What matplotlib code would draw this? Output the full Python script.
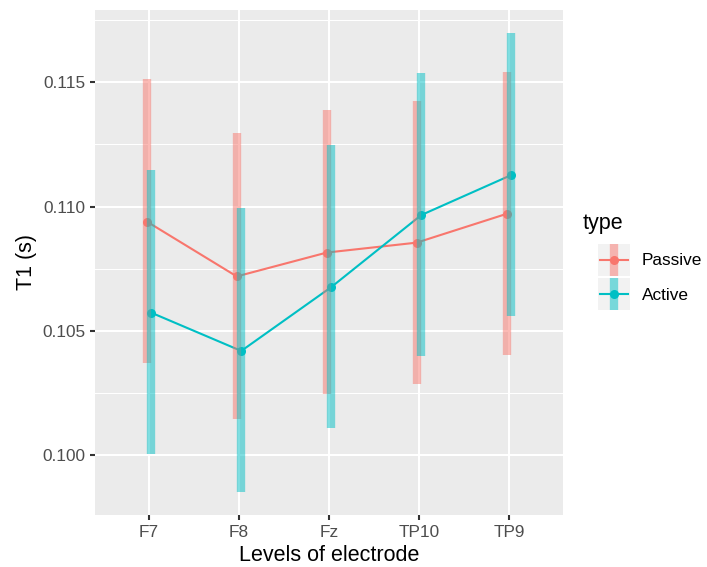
import matplotlib
matplotlib.use("Agg")
import matplotlib.pyplot as plt
import numpy as np

plt.rcParams['font.family'] = ['Liberation Sans', 'DejaVu Sans']

electrodes = ["F7", "F8", "Fz", "TP10", "TP9"]
types = ["Passive", "Active"]
colors = {"Passive": "#F8766D", "Active": "#00BFC4"}

passive_mean = [0.10940, 0.10719, 0.10815, 0.10855, 0.10971]
passive_lower = [0.10370, 0.10147, 0.10247, 0.10287, 0.10403]
passive_upper = [0.11515, 0.11295, 0.11388, 0.11425, 0.11542]

active_mean = [0.10573, 0.10419, 0.10676, 0.10966, 0.11127]
active_lower = [0.10003, 0.09851, 0.10109, 0.10399, 0.10560]
active_upper = [0.11146, 0.10993, 0.11247, 0.11538, 0.11699]

y_ticks = [0.100, 0.105, 0.110, 0.115]
y_tick_labels = ["0.100", "0.105", "0.110", "0.115"]

data = {
    "Passive": (passive_mean, passive_lower, passive_upper),
    "Active": (active_mean, active_lower, active_upper),
}
dodge = {"Passive": -0.025, "Active": 0.025}

S = 1.41
W, H = 707, 567
fig = plt.figure(figsize=(W / 100, H / 100), dpi=100)
ax = fig.add_axes([95 / W, 1 - 515 / H, (563 - 95) / W, (515 - 10) / H])
ax.set_facecolor("#EBEBEB")

xpos = np.arange(1, len(electrodes) + 1)

lo = min(min(passive_lower), min(active_lower))
hi = max(max(passive_upper), max(active_upper))
pad = (hi - lo) * 0.05
ax.set_ylim(lo - pad, hi + pad)
ax.set_xlim(0.4, len(electrodes) + 0.6)
for m in [0.0975, 0.1025, 0.1075, 0.1125, 0.1175]:
    ax.axhline(m, color="white", lw=0.53 * S, zorder=0.5)
for t in y_ticks:
    ax.axhline(t, color="white", lw=1.07 * S, zorder=0.6)
for x in xpos:
    ax.axvline(x, color="white", lw=1.07 * S, zorder=0.6)

for t in types:
    m, l, u = data[t]
    xs = xpos + dodge[t]
    ax.plot(xs, m, color=colors[t], lw=1.07 * S, zorder=2)
    ax.plot(xs, m, 'o', color=colors[t], ms=6.5, mew=0, zorder=2.1)

for t in types:
    m, l, u = data[t]
    xs = xpos + dodge[t]
    ax.vlines(xs, l, u, color=colors[t], lw=6, alpha=0.5, zorder=3)

ax.set_xticks(xpos)
ax.set_xticklabels(electrodes)
ax.set_yticks(y_ticks)
ax.set_yticklabels(y_tick_labels)
for s in ax.spines.values():
    s.set_visible(False)
ax.tick_params(axis="both", length=2.75 * S, width=1.07 * S, color="#333333",
               labelcolor="#4D4D4D", labelsize=8.8 * S, pad=2.2 * S)
ax.set_xlabel("Levels of electrode", fontsize=11 * S, color="black", labelpad=2.75 * S)
ax.set_ylabel("T1 (s)", fontsize=11 * S, color="black", labelpad=2.75 * S)

fig.text(583 / W, 1 - 224 / H, "type", fontsize=11 * S, va="center", ha="left")
key_tops = [244, 278]
for t, top in zip(types, key_tops):
    kax = fig.add_axes([598 / W, 1 - (top + 32) / H, 32 / W, 32 / H])
    kax.set_facecolor("#F2F2F2")
    kax.set_xlim(0, 1)
    kax.set_ylim(0, 1)
    kax.set_xticks([])
    kax.set_yticks([])
    for s in kax.spines.values():
        s.set_visible(False)
    kax.plot([0.06, 0.94], [0.5, 0.5], color=colors[t], lw=1.07 * S)
    kax.plot([0.5], [0.5], 'o', color=colors[t], ms=6.5, mew=0)
    kax.vlines([0.5], 0, 1, color=colors[t], lw=6, alpha=0.5)
    fig.text(642 / W, 1 - (top + 17) / H, t, fontsize=8.8 * S, va="center", ha="left")

fig.savefig("out.png", dpi=100)
